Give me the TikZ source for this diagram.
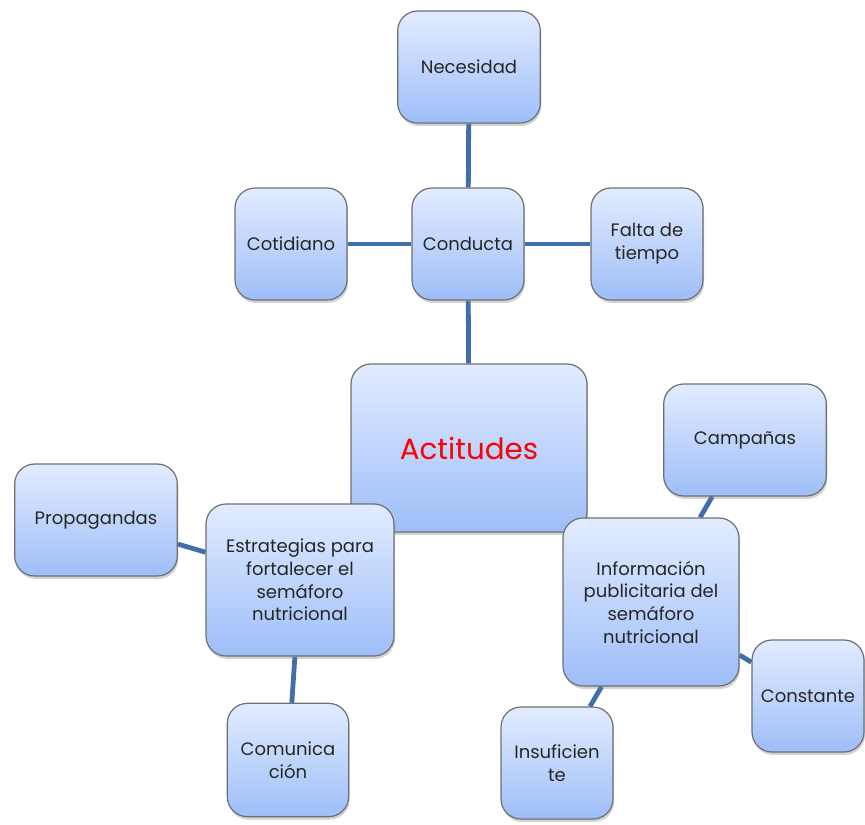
\documentclass[tikz,border=0pt]{standalone}
\usepackage{fontspec}
\setmainfont{Poppins}
\usepackage{tikz}
\usetikzlibrary{positioning,shadows,backgrounds}
\definecolor{boxtop}{RGB}{226,236,255}
\definecolor{boxbottom}{RGB}{158,190,248}
\definecolor{boxline}{RGB}{110,110,115}
\definecolor{linkblue}{RGB}{64,110,168}
\tikzset{
  box/.style    = {shape=rectangle, rounded corners=15pt,
                   draw=boxline, line width=0.9pt, align=center,
                   top color=boxtop, bottom color=boxbottom,
                   font=\fontsize{13.5}{17}\selectfont, text=black!85,
                   drop shadow={opacity=0.35, shadow xshift=0.8pt, shadow yshift=-2.2pt},
                   inner sep=2pt},
  small/.style  = {box, minimum width=84pt, minimum height=84pt},
  wide/.style   = {box, minimum width=122pt, minimum height=84pt},
  root/.style   = {box, minimum width=177pt, minimum height=126pt,
                   font=\fontsize{22}{26}\selectfont, text=red},
  link/.style   = {draw=linkblue, line width=3.6pt}
}
\begin{document}
\begin{tikzpicture}[x=0.75pt, y=-0.75pt]
  \useasboundingbox (0,0) rectangle (865,825);
  % upper branch
  \node [box, minimum width=107pt, minimum height=84pt] (necesidad) at (469,67) {Necesidad};
  \node [small] (conducta)  at (468,244) {Conducta};
  \node [small] (cotidiano) at (291,244) {Cotidiano};
  \node [small] (falta)     at (647,244) {Falta de\\tiempo};
  % centre
  \node [root]  (actitudes) at (469,448) {Actitudes};
  % left branch
  \node [wide]  (propagandas) at (96,520) {Propagandas};
  \node [box, minimum width=141pt, minimum height=114pt] (estrategias) at (300,580)
        {Estrategias para\\fortalecer el\\semáforo\\nutricional};
  \node [box, minimum width=91pt, minimum height=85pt] (comunicacion) at (288,760) {Comunica\\ción};
  % right branch
  \node [wide]  (campanas) at (745,440) {Campañas};
  \node [box, minimum width=132pt, minimum height=126pt] (informacion) at (651,602)
        {Información\\publicitaria del\\semáforo\\nutricional};
  \node [small] (constante)    at (808,696) {Constante};
  \node [small] (insuficiente) at (557,763) {Insuficien\\te};

  \begin{scope}[on background layer]
    \draw [link] (necesidad) -- (conducta);
    \draw [link] (cotidiano) -- (conducta);
    \draw [link] (conducta) -- (falta);
    \draw [link] (conducta) -- (actitudes);
    \draw [link] (propagandas) -- (estrategias);
    \draw [link] (estrategias) -- (comunicacion);
    \draw [link] (informacion) -- (campanas);
    \draw [link] (informacion) -- (constante);
    \draw [link] (informacion) -- (insuficiente);
  \end{scope}
\end{tikzpicture}
\end{document}
